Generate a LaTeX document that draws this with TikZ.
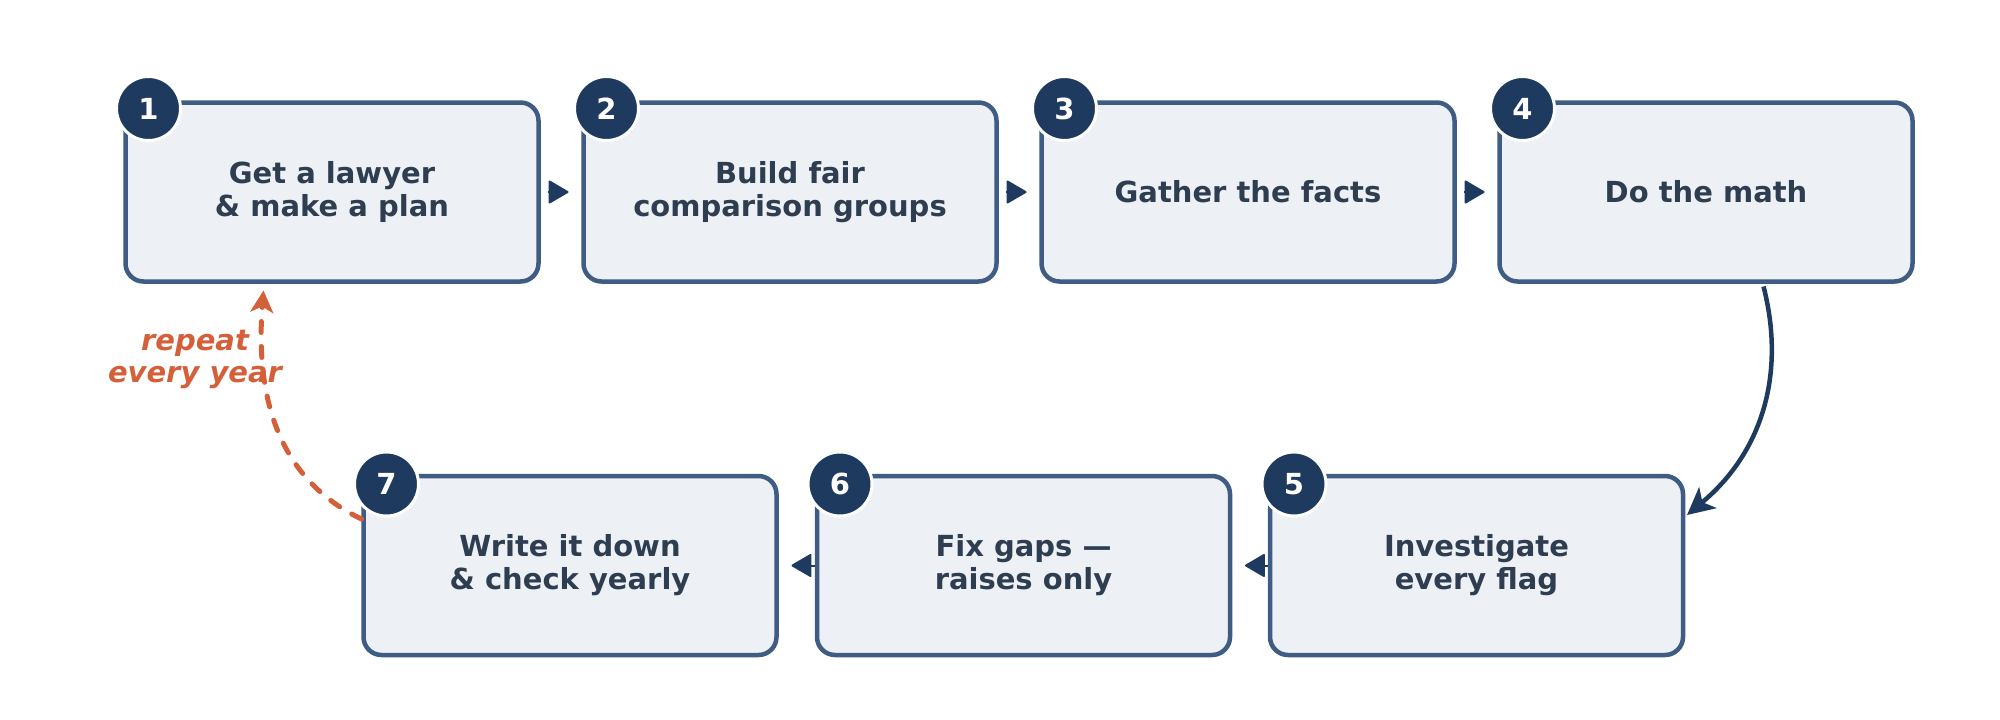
\documentclass[tikz,border=0pt]{standalone}
\usepackage{fontspec}
\setmainfont{DejaVu Sans}
\usetikzlibrary{arrows.meta,calc}
\definecolor{boxfill}{HTML}{EDF0F5}
\definecolor{boxline}{HTML}{3E5C84}
\definecolor{navy}{HTML}{1F3A5F}
\definecolor{txt}{HTML}{2E3D4F}
\definecolor{orng}{HTML}{D4603A}
\tikzset{
  stepbox/.style={draw=boxline, fill=boxfill, line width=4.5pt, rounded corners=18pt,
    minimum width=413pt, minimum height=179pt, outer sep=0pt, align=center,
    text=txt, font=\fontsize{29}{33}\selectfont\bfseries},
  badge/.style={circle, fill=navy, draw=white, line width=3pt, minimum size=64pt,
    inner sep=0pt, text=white, font=\fontsize{29}{33}\selectfont\bfseries},
  flowarrow/.style={draw=navy, fill=navy, line width=2pt,
    -{Triangle[length=21pt, width=24pt, round]}},
  bendarrow/.style={draw=navy, line width=4.5pt,
    -{Stealth[length=27pt, width=27pt, inset=7pt]}},
  looparrow/.style={draw=orng, line width=5pt, line cap=round,
    dash pattern=on 11pt off 14pt,
    -{Stealth[length=22pt, width=23pt, inset=6pt]}},
  looplabel/.style={text=orng, align=center,
    font=\fontsize{29}{32}\selectfont\bfseries\itshape}
}
\begin{document}
\begin{tikzpicture}[x=1pt, y=-1pt]
\useasboundingbox (0,0) rectangle (2000,720);
% boxes
\node[stepbox] (b1) at (332,192) {Get a lawyer\\\& make a plan};
\node[stepbox] (b2) at (790,192) {Build fair\\comparison groups};
\node[stepbox] (b3) at (1248,192) {Gather the facts};
\node[stepbox] (b4) at (1706,192) {Do the math};
\node[stepbox] (b5) at (1476.5,565.5) {Investigate\\every flag};
\node[stepbox] (b6) at (1023.5,565.5) {Fix gaps —\\raises only};
\node[stepbox] (b7) at (570,565.5) {Write it down\\\& check yearly};
% badges
\node[badge] (c1) at ($(b1.north west)+(23,6)$) {1};
\node[badge] (c2) at ($(b2.north west)+(23,6)$) {2};
\node[badge] (c3) at ($(b3.north west)+(23,6)$) {3};
\node[badge] (c4) at ($(b4.north west)+(23,6)$) {4};
\node[badge] (c5) at ($(b5.north west)+(24,8)$) {5};
\node[badge] (c6) at ($(b6.north west)+(23,8)$) {6};
\node[badge] (c7) at ($(b7.north west)+(23,8)$) {7};
% straight arrows
\draw[flowarrow, shorten <=9pt, shorten >=15pt] (b1.east) -- (b2.west);
\draw[flowarrow, shorten <=9pt, shorten >=15pt] (b2.east) -- (b3.west);
\draw[flowarrow, shorten <=9pt, shorten >=15pt] (b3.east) -- (b4.west);
\draw[flowarrow, shorten <=2pt, shorten >=15pt] (b5.west) -- (b6.east);
\draw[flowarrow, shorten <=2pt, shorten >=15pt] (b6.west) -- (b7.east);
% bend from 4 to 5
\coordinate (s4) at ($(b4.south west)+(264,5)$);
\coordinate (e5) at ($(b5.north east)+(4,39)$);
\draw[bendarrow] (s4) .. controls (1785,370) and (1765,450) .. (e5);
% loop back
\coordinate (s7) at ($(b7.north west)+(-2,43)$);
\coordinate (e1) at ($(b1.south west)+(138,9)$);
\draw[looparrow] (s7) .. controls (280,480) and (255,400) .. (e1);
\node[looplabel] (lbl) at (195,359) {repeat\\every year};
\end{tikzpicture}
\end{document}
